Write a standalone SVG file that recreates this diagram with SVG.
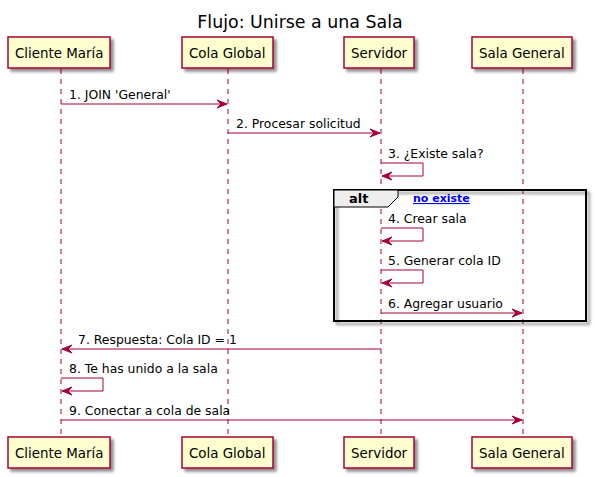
<svg xmlns="http://www.w3.org/2000/svg" width="595" height="477" viewBox="0 0 595 477">
<defs>
<filter id="sh" x="-10%" y="-10%" width="130%" height="140%">
<feGaussianBlur in="SourceAlpha" stdDeviation="1.7" result="b"/>
<feOffset in="b" dx="3" dy="3" result="o"/>
<feComponentTransfer in="o" result="o2"><feFuncA type="linear" slope="0.45"/></feComponentTransfer>
<feMerge><feMergeNode in="o2"/><feMergeNode in="SourceGraphic"/></feMerge>
</filter>
</defs>
<style>
text{font-family:"DejaVu Sans",sans-serif;fill:#000}
.title{font-size:17.4px}
.pbox{fill:#FEFECE;stroke:#A80036;stroke-width:1.5;filter:url(#sh)}
.pt{font-size:13.4px}
.life{stroke:#A80036;stroke-width:1;stroke-dasharray:5,5}
.msg{stroke:#A80036;stroke-width:1;fill:none}
.head{fill:#A80036;stroke:#A80036;stroke-width:1}
.mt{font-size:12.4px}
.alt{fill:none;stroke:#000;stroke-width:2;filter:url(#sh)}
.althead{fill:#EEEEEE;stroke:#000;stroke-width:1}
.altl{font-size:13px;font-weight:bold}
.cond{font-size:11px;font-weight:bold;fill:#0000FF;text-decoration:underline}
</style>
<rect width="595" height="477" fill="#FFFFFF"/>
<text class="title" x="300" y="28" text-anchor="middle">Flujo: Unirse a una Sala</text>

<g id="lifelines">
<line class="life" x1="61" y1="69" x2="61" y2="437"/>
<line class="life" x1="228" y1="69" x2="228" y2="437"/>
<line class="life" x1="381" y1="69" x2="381" y2="437"/>
<line class="life" x1="523" y1="69" x2="523" y2="437"/>
</g>

<g id="cliente">
<rect class="pbox" x="8" y="37" width="102" height="31"/>
<text class="pt" x="15" y="58">Cliente María</text>
<rect class="pbox" x="8" y="437" width="102" height="31"/>
<text class="pt" x="15" y="458">Cliente María</text>
</g>
<g id="cola">
<rect class="pbox" x="182" y="37" width="91" height="31"/>
<text class="pt" x="189" y="58">Cola Global</text>
<rect class="pbox" x="182" y="437" width="91" height="31"/>
<text class="pt" x="189" y="458">Cola Global</text>
</g>
<g id="servidor">
<rect class="pbox" x="344" y="37" width="70" height="31"/>
<text class="pt" x="351" y="58">Servidor</text>
<rect class="pbox" x="344" y="437" width="70" height="31"/>
<text class="pt" x="351" y="458">Servidor</text>
</g>
<g id="sala">
<rect class="pbox" x="472" y="37" width="100" height="31"/>
<text class="pt" x="479" y="58">Sala General</text>
<rect class="pbox" x="472" y="437" width="100" height="31"/>
<text class="pt" x="479" y="458">Sala General</text>
</g>

<g id="altframe">
<rect class="alt" x="334" y="190" width="252" height="131"/>
<polygon class="althead" points="334,190 398,190 398,197 388,207 334,207"/>
<text class="altl" x="349" y="203">alt</text>
<text class="cond" x="413" y="202">no existe</text>
</g>

<g id="connectors">
<line class="msg" x1="61" y1="104" x2="227" y2="104"/>
<polygon class="head" points="217,100 227,104 217,108 221,104"/>
<text class="mt" x="69" y="99">1. JOIN 'General'</text>

<line class="msg" x1="228" y1="133" x2="380" y2="133"/>
<polygon class="head" points="370,129 380,133 370,137 374,133"/>
<text class="mt" x="236" y="128">2. Procesar solicitud</text>

<polyline class="msg" points="381,163 423,163 423,176 382,176"/>
<polygon class="head" points="392,172 382,176 392,180 388,176"/>
<text class="mt" x="388" y="158">3. ¿Existe sala?</text>

<polyline class="msg" points="381,228 423,228 423,241 382,241"/>
<polygon class="head" points="392,237 382,241 392,245 388,241"/>
<text class="mt" x="388" y="223">4. Crear sala</text>

<polyline class="msg" points="381,270 423,270 423,283 382,283"/>
<polygon class="head" points="392,279 382,283 392,287 388,283"/>
<text class="mt" x="388" y="265">5. Generar cola ID</text>

<line class="msg" x1="381" y1="313" x2="522" y2="313"/>
<polygon class="head" points="512,309 522,313 512,317 516,313"/>
<text class="mt" x="388" y="308">6. Agregar usuario</text>

<line class="msg" x1="62" y1="349" x2="381" y2="349"/>
<polygon class="head" points="72,345 62,349 72,353 68,349"/>
<text class="mt" x="78" y="344">7. Respuesta: Cola ID = 1</text>

<polyline class="msg" points="61,378 103,378 103,391 62,391"/>
<polygon class="head" points="72,387 62,391 72,395 68,391"/>
<text class="mt" x="69" y="373">8. Te has unido a la sala</text>

<line class="msg" x1="61" y1="420" x2="522" y2="420"/>
<polygon class="head" points="512,416 522,420 512,424 516,420"/>
<text class="mt" x="69" y="415">9. Conectar a cola de sala</text>
</g>
</svg>
